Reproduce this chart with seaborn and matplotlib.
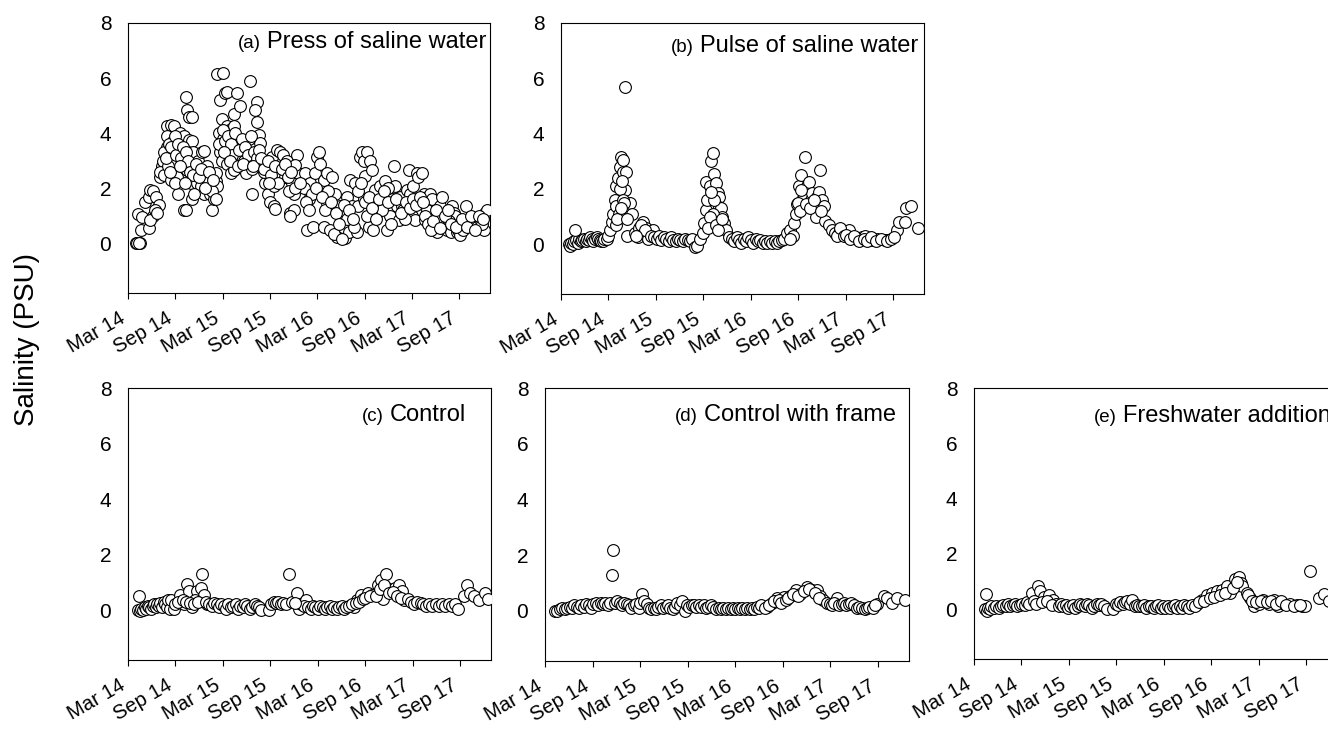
import matplotlib
matplotlib.use("Agg")
import matplotlib.pyplot as plt
import pandas as pd
import seaborn as sns

# ---------------- data (months after 1 Mar 2014, salinity PSU) ----------------
tick_months = [0, 6, 12, 18, 24, 30, 36, 42]
tick_labels = ["Mar 14", "Sep 14", "Mar 15", "Sep 15", "Mar 16", "Sep 16", "Mar 17", "Sep 17"]
y_ticks = [0, 2, 4, 6, 8]

a_month = [1.0, 1.2, 1.5, 1.4, 1.3, 1.8, 1.6, 2.2, 2.6, 2.8, 3.2, 3.6, 3.9, 3.2, 2.6, 2.8, 3.4, 3.7,
           4.1, 4.3, 4.5, 4.9, 4.1, 4.6,
           4.9, 5.4, 5.8, 5.6, 5.1, 5.4, 5.0, 5.7,
           6.4, 6.6, 6.8, 6.4, 6.2, 7.1, 7.3, 7.4, 7.1, 6.9,
           7.5, 7.7, 8.1, 7.7, 8.1, 7.9, 7.5, 8.1, 8.0,
           8.3, 8.7, 8.9, 9.2, 9.4, 9.6, 9.6, 9.0,
           10.0, 10.2, 10.4, 10.6, 10.9, 11.1, 11.3, 11.1, 10.7,
           11.3, 12.1, 11.7, 11.9, 11.5, 11.7, 12.1, 12.3, 12.5, 11.5, 11.9,
           12.5, 13.0, 13.4, 13.4, 13.8, 14.2, 12.8, 12.5, 13.0, 13.4, 13.8, 14.0, 14.4, 13.6,
           15.5, 16.4, 16.1, 16.4, 15.7, 15.1, 14.7, 14.9, 15.5, 15.9, 16.6, 16.8, 16.4, 15.3, 15.7,
           17.0, 17.4, 17.6, 17.8, 18.0, 18.5, 18.7, 18.3, 18.9, 19.3, 19.1, 17.2, 18.5,
           19.7, 20.2, 20.6, 21.0, 20.6, 21.0, 21.4, 21.6, 21.2, 20.8, 19.9, 20.4,
           22.5, 22.7, 22.9, 23.1, 23.5, 23.7, 24.0, 24.2, 22.3, 23.3,
           24.4, 24.8, 25.2, 24.8, 25.6, 25.2, 25.9, 26.3, 26.5, 26.1, 25.4,
           26.9, 27.3, 27.5, 27.8, 28.0, 28.2, 28.4, 28.8, 29.0, 28.6, 29.2, 27.8, 27.1,
           29.4, 29.7, 29.9, 30.1, 30.3, 30.7, 30.9, 30.5, 31.1, 30.9, 31.3, 31.6, 29.9, 30.3,
           32.0, 32.4, 32.6, 32.8, 33.2, 33.5, 33.7, 33.9, 34.1, 34.3, 33.0, 32.2,
           34.5, 34.7, 34.9, 35.4, 35.6, 35.8, 36.0, 36.2, 36.6, 36.8, 37.3, 36.4, 35.1,
           37.5, 37.9, 38.1, 38.3, 38.5, 38.8, 39.0, 39.2, 39.4, 39.6, 37.7, 37.9,
           39.8, 40.0, 40.4, 40.9, 41.1, 41.3, 41.5, 41.7, 41.9, 42.1, 40.7,
           42.5, 42.8, 43.2, 43.8, 44.2, 44.7, 45.1, 45.3, 45.5, 44.9,
           4.6, 4.8, 5.2, 5.5, 5.9, 6.1, 6.3, 6.7, 7.0, 7.3, 7.6, 7.9, 8.3, 8.6, 9.0, 9.3, 9.8, 10.3,
           10.8, 11.2, 5.3, 6.0, 6.6, 7.2, 8.4,
           12.0, 12.3, 12.7, 13.1, 13.2, 13.6, 14.1, 14.5, 14.8, 15.2, 15.6, 16.0, 16.3, 16.6, 12.2,
           12.9, 13.9, 14.6, 15.9, 16.9,
           17.3, 17.7, 18.1, 18.6, 19.0, 19.5, 19.9, 20.3, 20.7, 21.2, 21.8, 17.9,
           22.6, 23.0, 23.8, 24.6, 25.0, 25.8, 26.4, 26.8, 27.4, 28.0, 28.5, 29.1, 29.6, 30.0, 30.6,
           31.0, 31.4, 31.8, 32.4, 33.0, 33.4, 34.0, 34.6, 35.2, 35.7, 36.1, 36.5, 37.0, 37.4, 37.6,
           38.0, 38.4, 38.7, 39.1, 39.5, 40.2, 40.6, 41.0, 41.6, 42.3, 43.0, 43.5, 44.0, 44.5, 45.0]
a_psu = [0.0, 0.0, 0.0, 0.0, 1.05, 0.95, 0.5, 1.5, 1.7, 1.95, 1.9, 1.7, 1.4, 1.0, 0.55, 0.85, 1.2, 1.1,
         2.4, 2.8, 3.0, 3.5, 2.6, 2.5,
         4.25, 4.3, 4.25, 3.3, 2.8, 2.3, 3.9, 3.7,
         3.4, 4.0, 3.8, 1.8, 2.4, 1.2, 5.3, 1.2, 3.9, 3.0,
         4.85, 4.6, 4.6, 3.75, 3.7, 3.15, 2.65, 1.6, 2.2,
         3.3, 2.2, 3.0, 2.1, 3.3, 3.35, 1.8, 2.6,
         2.8, 2.3, 1.8, 1.2, 1.6, 2.25, 2.1, 2.55, 1.9,
         6.15, 6.2, 5.2, 4.5, 4.0, 3.3, 3.8, 5.45, 5.5, 3.6, 3.0,
         4.25, 4.15, 4.25, 4.7, 5.45, 5.0, 3.4, 2.9, 2.55, 2.65, 3.15, 3.65, 3.15, 3.5,
         5.9, 5.15, 4.85, 4.4, 1.8, 3.75, 3.0, 2.55, 3.3, 3.65, 3.95, 3.65, 2.9, 3.8, 2.7,
         2.9, 2.2, 2.55, 1.8, 1.5, 1.35, 1.25, 3.15, 3.4, 3.3, 2.55, 2.6, 2.1,
         3.2, 3.0, 1.1, 1.2, 1.0, 1.8, 3.2, 2.55, 2.85, 2.2, 2.4, 1.9,
         2.55, 0.5, 1.6, 2.2, 0.6, 2.55, 3.15, 3.3, 2.0, 1.8,
         2.9, 2.3, 1.45, 0.6, 0.5, 2.55, 2.4, 1.8, 0.25, 0.35, 1.9,
         1.35, 1.0, 0.2, 1.7, 0.4, 2.3, 1.35, 2.2, 0.4, 0.6, 1.35, 0.9, 0.15,
         3.15, 3.3, 3.0, 2.45, 3.3, 3.0, 2.65, 0.6, 0.5, 1.45, 1.95, 1.1, 1.6, 1.0,
         2.1, 1.6, 2.25, 0.5, 1.0, 1.6, 2.8, 2.1, 1.35, 0.85, 2.0, 1.2,
         1.7, 1.35, 1.2, 1.95, 2.65, 1.8, 1.0, 2.1, 2.55, 2.4, 2.55, 0.85, 0.9,
         1.8, 1.7, 1.1, 1.8, 1.6, 1.1, 0.6, 0.4, 0.85, 1.35, 0.85, 1.2,
         1.7, 0.6, 0.5, 0.4, 1.35, 1.1, 1.0, 0.4, 0.5, 0.3, 0.8,
         0.5, 1.35, 0.85, 0.85, 0.6, 0.8, 0.5, 1.1, 1.2, 0.7,
         3.3, 3.1, 3.6, 3.5, 3.9, 3.2, 3.6, 3.1, 3.5, 3.3, 3.0, 2.6, 2.5, 2.9, 2.4, 2.7, 2.0, 2.6,
         2.3, 1.6, 2.6, 2.2, 2.8, 2.2, 1.8,
         4.1, 3.7, 3.9, 3.6, 3.2, 4.0, 3.4, 3.8, 3.5, 3.2, 3.9, 3.3, 3.1, 3.4, 3.3,
         3.0, 2.8, 2.9, 2.8, 3.1,
         2.7, 3.0, 2.5, 2.8, 2.2, 2.7, 2.9, 2.4, 2.6, 2.0, 2.2, 2.2,
         1.5, 1.2, 2.0, 1.7, 1.2, 1.5, 1.1, 0.7, 1.4, 1.2, 0.9, 1.9, 2.2, 1.5, 1.7,
         1.3, 0.9, 1.6, 1.9, 1.5, 0.7, 1.6, 1.1, 1.5, 1.3, 1.6, 1.4, 1.7, 1.5, 1.0,
         0.7, 0.5, 0.8, 1.2, 0.55, 1.0, 1.2, 0.7, 0.6, 0.9, 0.6, 1.0, 0.5, 1.0, 0.9]

b_month = [1.0, 1.1, 1.3, 1.5, 1.7, 1.9, 2.1, 2.3, 2.5, 2.7, 2.9, 3.1, 3.3, 3.5, 3.7, 3.9, 4.1, 4.3,
           4.5, 4.7, 4.9, 5.1, 5.3, 5.5, 1.8,
           5.8, 6.0, 6.2, 6.4, 6.6, 6.8, 7.0, 7.2, 7.4, 7.6, 7.8, 7.9, 8.2, 8.1, 8.05, 8.7, 9.0, 8.3,
           7.0, 7.3, 7.5, 7.7, 7.8, 8.0, 6.9, 7.1, 7.6, 8.4, 9.3, 9.7, 9.9, 10.4, 10.8, 11.0, 11.2,
           11.6, 10.1, 10.6, 11.4, 9.5,
           11.8, 12.1, 12.4, 12.7, 13.0, 13.3, 13.6, 13.9, 14.2, 14.5, 14.8, 15.1, 15.4, 15.7, 16.0,
           16.3, 16.6, 16.9, 17.2,
           17.6, 17.9, 18.1, 18.3, 18.3, 18.5, 18.8, 19.0, 19.2, 19.4, 19.6, 19.8, 20.0, 20.0, 20.2,
           20.4, 20.6, 20.9, 21.3, 19.2, 18.8, 19.4, 19.0, 18.6, 19.6, 19.8, 20.3,
           21.6, 21.9, 22.2, 22.5, 22.8, 23.1, 23.4, 23.7, 24.0, 24.3, 24.6, 24.9, 25.2, 25.5, 25.8,
           26.1, 26.4, 26.7, 27.0, 27.3, 27.6, 27.9, 28.2,
           28.6, 29.0, 29.5, 29.7, 29.9, 30.1, 30.3, 30.5, 30.7, 30.9, 31.1, 31.3, 31.6, 31.8, 32.0,
           32.2, 32.4, 32.6, 32.8, 33.0, 33.2, 33.4, 33.9, 34.3, 30.0, 30.2, 30.4, 31.0, 31.5, 32.0,
           32.9, 29.3, 28.9,
           34.7, 35.1, 35.5, 36.2, 36.4, 36.8, 37.4, 38.1, 38.5, 38.9, 39.5, 40.0, 41.0, 41.4, 42.5,
           42.7, 43.5, 43.6, 44.3, 45.1, 34.9, 35.3, 35.8, 36.0, 36.6, 37.0, 37.7, 38.3, 38.7, 39.2,
           39.8, 40.5, 41.2, 41.7, 42.1]
b_psu = [0.0, -0.05, 0.05, 0.0, 0.1, 0.15, 0.05, 0.2, 0.1, 0.15, 0.2, 0.1, 0.2, 0.15, 0.25, 0.2, 0.1, 0.2,
         0.25, 0.2, 0.15, 0.1, 0.1, 0.2, 0.5,
         0.2, 0.3, 0.5, 0.8, 1.1, 1.6, 2.1, 2.4, 2.8, 3.15, 3.05, 2.6, 2.6, 5.7, 1.95, 1.5, 1.1, 0.3,
         1.4, 1.1, 2.0, 2.3, 1.6, 1.5, 0.7, 0.9, 1.3, 0.9, 0.4, 0.25, 0.6, 0.8, 0.6, 0.2, 0.4,
         0.5, 0.7, 0.5, 0.3, 0.3,
         0.25, 0.2, 0.3, 0.15, 0.25, 0.2, 0.1, 0.25, 0.15, 0.1, 0.2, 0.15, 0.1, 0.2, 0.15,
         0.1, 0.2, -0.1, -0.05,
         0.2, 0.4, 0.75, 1.25, 2.25, 1.6, 2.1, 3.0, 3.3, 2.55, 2.2, 1.85, 1.7, 1.35, 1.3,
         1.0, 0.75, 0.5, 0.25, 1.1, 1.0, 1.6, 1.9, 0.6, 0.7, 0.5, 0.9,
         0.2, 0.1, 0.25, 0.15, 0.05, 0.2, 0.1, 0.25, 0.15, 0.05, 0.2, 0.1, 0.15, 0.05, 0.1,
         0.05, 0.1, 0.05, 0.1, 0.05, 0.1, 0.15, 0.2,
         0.4, 0.5, 0.75, 1.1, 1.45, 2.1, 2.5, 1.6, 1.7, 3.15, 2.1, 2.25, 1.6, 1.85, 1.3,
         1.0, 1.7, 1.9, 2.7, 1.6, 1.4, 0.85, 0.7, 0.5, 1.5, 1.2, 1.95, 1.45, 1.3, 1.6,
         1.2, 0.3, 0.2,
         0.4, 0.4, 0.5, 0.4, 0.5, 0.25, 0.2, 0.25, 0.3, 0.15, 0.15, 0.2, 0.15, 0.15, 0.5,
         0.8, 0.8, 1.3, 1.4, 0.6, 0.3, 0.6, 0.3, 0.35, 0.2, 0.3, 0.1, 0.2, 0.1, 0.25,
         0.1, 0.2, 0.1, 0.2, 0.25]

c_month = [1.35, 1.3, 1.5, 1.7, 1.9, 2.1, 2.3, 2.5, 2.7, 2.9, 3.1, 3.3, 3.5, 3.7, 3.9, 4.1, 4.3, 4.5,
           4.7, 4.9, 5.1, 5.3,
           5.4, 5.8, 6.6, 7.1, 7.5, 7.7, 8.1, 8.7, 9.4, 9.2, 9.6, 8.5, 10.0, 6.0, 6.3, 6.9, 7.3,
           7.9, 8.3, 8.9, 9.8,
           10.3, 10.6, 10.9, 11.2, 11.5, 11.8, 12.1, 12.4, 12.7, 13.0, 13.3, 13.6, 13.9, 14.2, 14.5,
           14.8, 15.1, 15.4, 15.7, 16.0, 16.3, 16.6, 16.8, 17.8,
           18.1, 18.4, 18.7, 19.0, 19.3, 19.6, 20.0, 20.4, 20.7, 21.4, 21.6, 21.9, 22.5, 22.2, 21.1,
           22.8, 23.1, 23.4, 23.7, 24.0, 24.3, 24.6, 24.9, 25.2, 25.5, 25.8, 26.1, 26.4, 26.7, 27.0,
           27.3, 27.6,
           28.6, 29.0, 29.4, 30.3, 30.9, 31.6, 32.0, 32.2, 32.6, 32.8, 33.2, 33.7, 34.3, 34.7, 34.9,
           28.0, 28.3, 28.8, 29.2, 29.7, 30.0, 30.6, 31.3, 31.9, 32.4, 33.0, 33.5, 34.0, 34.5,
           35.4, 35.8, 36.2, 36.6, 37.0, 37.3, 37.7, 38.1, 38.5, 38.9, 39.3, 39.7, 40.1, 40.6, 41.0,
           41.3,
           41.7, 42.9, 42.5, 43.2, 43.8, 44.4, 45.1, 45.5]
c_psu = [0.5, 0.0, -0.05, 0.05, 0.0, 0.1, 0.05, 0.15, 0.1, 0.05, 0.15, 0.2, 0.1, 0.2, 0.15, 0.25, 0.1, 0.3,
         0.2, 0.1, 0.35, 0.05,
         0.35, 0.05, 0.55, 0.2, 0.95, 0.7, 0.1, 0.7, 1.3, 0.8, 0.55, 0.35, 0.2, 0.2, 0.3, 0.35, 0.3,
         0.25, 0.2, 0.3, 0.3,
         0.2, 0.15, 0.25, 0.2, 0.1, 0.2, 0.15, 0.05, 0.2, 0.1, 0.15, 0.2, 0.05, 0.15, 0.1,
         0.2, 0.15, 0.05, 0.1, 0.2, 0.15, 0.1, 0.0, 0.0,
         0.2, 0.3, 0.25, 0.3, 0.2, 0.25, 0.2, 1.3, 0.3, 0.6, 0.05, 0.2, 0.35, 0.15, 0.25,
         0.1, 0.05, 0.15, 0.1, 0.05, 0.15, 0.1, 0.05, 0.1, 0.15, 0.05, 0.1, 0.05, 0.1, 0.15,
         0.05, 0.1,
         0.1, 0.35, 0.55, 0.6, 0.55, 0.9, 1.1, 0.4, 1.3, 0.8, 0.7, 0.8, 0.9, 0.7, 0.35,
         0.15, 0.2, 0.25, 0.3, 0.4, 0.45, 0.5, 0.5, 0.75, 0.9, 0.6, 0.65, 0.5, 0.45,
         0.4, 0.3, 0.2, 0.3, 0.25, 0.2, 0.15, 0.2, 0.15, 0.2, 0.15, 0.2, 0.15, 0.2, 0.15,
         0.2,
         0.05, 0.9, 0.5, 0.6, 0.5, 0.35, 0.6, 0.4]

d_month = [1.25, 1.5, 1.9, 2.2, 2.5, 2.8, 3.1, 3.4, 3.7, 4.0, 4.3, 4.6, 4.9, 5.2, 5.5, 5.8, 6.1, 6.4,
           6.7, 7.0, 7.3, 7.6, 7.9, 8.2, 8.6, 8.5, 8.8, 9.1, 9.4, 9.7, 10.0, 10.3, 10.6, 10.9, 11.2,
           11.5, 11.8, 12.2, 12.0, 12.5, 12.8, 13.1, 13.4,
           13.7, 14.0, 14.3, 14.6, 14.9, 15.2, 15.5, 15.8, 16.1, 16.4, 16.7, 17.0, 17.3, 17.6,
           17.9, 18.2, 18.5, 18.8, 19.1, 19.4, 19.7, 20.0, 20.3, 20.6, 20.9, 21.2,
           21.6, 21.9, 22.2, 22.5, 22.8, 23.1, 23.4, 23.7, 24.0, 24.3, 24.6, 24.9, 25.2, 25.5, 25.8,
           26.1, 26.4, 26.7, 27.0, 27.3,
           28.0, 28.6, 29.2, 30.1, 30.9, 31.6, 32.2, 33.0, 33.7, 34.3, 34.7, 35.1, 27.7, 28.3, 28.9,
           29.5, 29.8, 30.4, 30.7, 31.3, 31.9, 32.6, 33.3, 34.0, 34.5,
           36.8, 35.5, 35.9, 36.2, 36.5, 37.1, 37.4, 37.7, 38.0, 38.3, 38.6, 39.0, 39.3, 39.6, 40.0,
           40.3, 40.6, 40.9,
           41.9, 42.7, 43.1, 43.8, 44.4, 45.4, 41.4, 41.6]
d_psu = [0.0, 0.0, 0.05, 0.1, 0.05, 0.1, 0.15, 0.1, 0.2, 0.15, 0.1, 0.2, 0.15, 0.25, 0.2, 0.1, 0.25, 0.3,
         0.2, 0.3, 0.25, 0.3, 0.2, 0.3, 2.2, 1.3, 0.3, 0.35, 0.3, 0.2, 0.3, 0.25, 0.2, 0.1, 0.2,
         0.25, 0.1, 0.6, 0.3, 0.35, 0.25, 0.1, 0.05,
         0.1, 0.05, 0.15, 0.2, 0.1, 0.15, 0.2, 0.1, 0.05, 0.15, 0.3, 0.2, 0.35, 0.0,
         0.2, 0.15, 0.2, 0.2, 0.15, 0.2, 0.15, 0.2, 0.1, 0.15, 0.2, 0.15,
         0.05, 0.1, 0.05, 0.1, 0.05, 0.1, 0.05, 0.1, 0.05, 0.1, 0.05, 0.1, 0.05, 0.1, 0.05,
         0.1, 0.05, 0.15, 0.1, 0.2,
         0.15, 0.3, 0.45, 0.5, 0.55, 0.75, 0.6, 0.85, 0.75, 0.75, 0.55, 0.4, 0.1, 0.2, 0.35,
         0.4, 0.3, 0.4, 0.45, 0.6, 0.55, 0.7, 0.8, 0.65, 0.45,
         0.45, 0.3, 0.25, 0.2, 0.3, 0.2, 0.25, 0.3, 0.2, 0.25, 0.3, 0.2, 0.1, 0.15, 0.1,
         0.05, 0.1, 0.15,
         0.25, 0.55, 0.45, 0.3, 0.45, 0.4, 0.1, 0.2]

e_month = [1.5, 1.4, 1.6, 1.8, 2.0, 2.2, 2.5, 2.8, 3.1, 3.4, 3.7, 4.0, 4.3, 4.6, 4.9, 5.2, 5.5, 5.8,
           6.1, 6.4, 6.7, 7.0,
           7.3, 8.1, 8.3, 8.9, 9.5, 10.0, 10.4, 7.6, 7.8, 8.6, 9.2, 9.8, 10.7,
           11.0, 11.3, 11.6, 11.9, 12.2, 12.5, 12.8, 13.1, 13.4, 13.7, 14.0, 14.3, 14.6, 14.9, 15.2,
           15.5, 15.8, 16.1, 16.4, 16.8, 17.6,
           17.9, 18.2, 18.5, 18.8, 19.1, 19.4, 19.7, 20.0, 20.3, 20.6, 20.9,
           21.2, 21.5, 21.8, 22.1, 22.4, 22.7, 23.0, 23.3, 23.6, 23.9, 24.2, 24.5, 24.8, 25.1, 25.4,
           25.7, 26.0, 26.3, 26.6, 26.9, 27.2,
           28.2, 28.8, 29.5, 30.1, 30.7, 31.4, 32.0, 32.4, 33.0, 33.5, 33.7, 33.9, 27.6, 27.9, 28.5,
           29.1, 29.8, 30.4, 31.1, 31.7, 32.7, 33.2,
           34.5, 34.9, 35.4, 36.0, 36.6, 37.3, 37.9, 38.5, 39.2, 40.0, 40.8, 41.5, 41.9, 34.7, 35.1,
           35.7, 36.3, 37.0, 37.6, 38.2, 38.8, 39.5, 40.4, 41.2,
           42.5, 43.6, 44.2, 44.85, 45.5]
e_psu = [0.55, 0.0, -0.05, 0.05, 0.0, 0.1, 0.05, 0.1, 0.05, 0.1, 0.15, 0.1, 0.2, 0.1, 0.15, 0.2, 0.1, 0.15,
         0.2, 0.15, 0.25, 0.2,
         0.6, 0.85, 0.65, 0.45, 0.5, 0.35, 0.2, 0.3, 0.2, 0.25, 0.3, 0.15, 0.1,
         0.2, 0.1, 0.15, 0.05, 0.1, 0.15, 0.05, 0.1, 0.2, 0.15, 0.1, 0.2, 0.15, 0.05, 0.1,
         0.2, 0.15, 0.2, 0.1, 0.0, 0.0,
         0.2, 0.15, 0.25, 0.2, 0.25, 0.3, 0.2, 0.35, 0.1, 0.15, 0.1,
         0.1, 0.15, 0.05, 0.1, 0.1, 0.05, 0.1, 0.15, 0.05, 0.1, 0.05, 0.1, 0.05, 0.1, 0.15,
         0.05, 0.1, 0.05, 0.15, 0.1, 0.05,
         0.2, 0.35, 0.5, 0.6, 0.65, 0.7, 0.85, 0.6, 1.1, 1.15, 0.95, 0.85, 0.15, 0.1, 0.25,
         0.3, 0.4, 0.45, 0.5, 0.6, 0.75, 1.0,
         0.6, 0.4, 0.1, 0.2, 0.35, 0.2, 0.35, 0.1, 0.2, 0.2, 0.15, 0.1, 0.1, 0.5, 0.3,
         0.25, 0.3, 0.25, 0.3, 0.2, 0.3, 0.15, 0.1, 0.15,
         1.4, 0.4, 0.55, 0.3, 0.4]

panel_tags = ["(a)", "(b)", "(c)", "(d)", "(e)"]
panel_names = ["Press of saline water", "Pulse of saline water", "Control",
               "Control with frame", "Freshwater addition"]
panel_months = [a_month, b_month, c_month, d_month, e_month]
panel_psu = [a_psu, b_psu, c_psu, d_psu, e_psu]

# ---------------- layout ----------------
W, H = 1328, 731
# (left, top, right, bottom) in pixels
boxes = [(128, 23, 490, 293), (561, 23, 924, 294),
         (128, 388, 491, 660), (545, 388, 909, 661), (974, 388, 1337, 659)]
title_pos = [(0.304, 0.907), (0.303, 0.893), (0.645, 0.879), (0.357, 0.880), (0.331, 0.875)]

sns.set_theme(style="white")
plt.rcParams["font.family"] = ["Liberation Sans", "DejaVu Sans"]
plt.rcParams["text.color"] = "black"
plt.rcParams["xtick.color"] = "black"
plt.rcParams["ytick.color"] = "black"
plt.rcParams["axes.labelcolor"] = "black"

fig = plt.figure(figsize=(W / 100, H / 100), dpi=100)
fig.patch.set_facecolor("white")

axes = []
tags = []
for i in range(5):
    l, t, r, b = boxes[i]
    ax = fig.add_axes([l / W, 1 - b / H, (r - l) / W, (b - t) / H])
    df = pd.DataFrame({"month": panel_months[i], "psu": panel_psu[i]})
    sns.scatterplot(data=df, x="month", y="psu", ax=ax, s=72, color="white",
                    edgecolor="black", linewidth=0.8, legend=False, zorder=3)
    ax.set_xlim(0, 45.9)
    ax.set_ylim(-1.8, 8)
    ax.set_xticks(tick_months)
    ax.set_xticklabels(tick_labels, rotation=30, ha="right")
    ax.set_yticks(y_ticks)
    ax.set_xlabel("")
    ax.set_ylabel("")
    ax.tick_params(axis="x", bottom=True, direction="out", length=4, width=0.8,
                   color="black", labelcolor="black", labelsize=14.5, pad=7)
    ax.tick_params(axis="y", left=False, length=0, labelcolor="black", labelsize=15, pad=12)
    for sp in ax.spines.values():
        sp.set_color("black")
        sp.set_linewidth(0.8)
        sp.set_visible(True)
    ax.grid(False)
    xf, yf = title_pos[i]
    tg = ax.text(xf, yf, panel_tags[i], transform=ax.transAxes, fontsize=13.5,
                 ha="left", va="baseline", color="black")
    axes.append(ax)
    tags.append(tg)

fig.canvas.draw()
for i, ax in enumerate(axes):
    bb = tags[i].get_window_extent()
    x_end = ax.transAxes.inverted().transform((bb.x1 + 6, bb.y0))[0]
    ax.text(x_end, title_pos[i][1], panel_names[i], transform=ax.transAxes,
            fontsize=17, ha="left", va="baseline", color="black")

fig.text(27 / W, 1 - 340 / H, "Salinity (PSU)", rotation=90, fontsize=20,
         ha="center", va="center", color="black")

fig.savefig("out.png", dpi=100)
